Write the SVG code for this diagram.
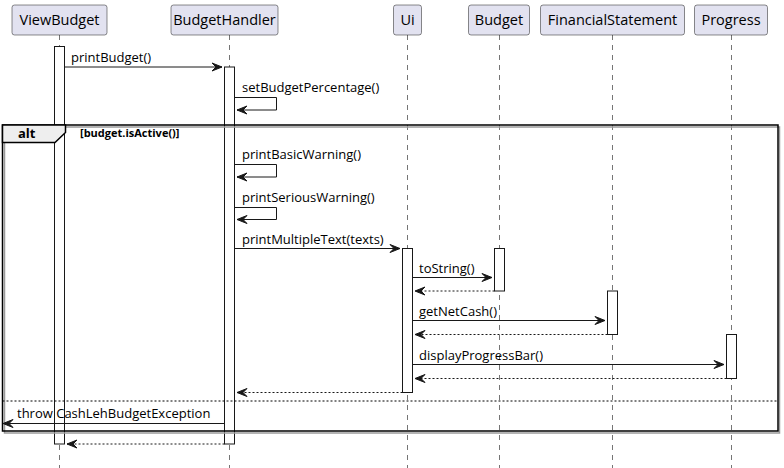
<svg xmlns="http://www.w3.org/2000/svg" width="784" height="468" viewBox="0 0 784 468">
<style>
.bg{fill:#ffffff}
.life{stroke:#181818;stroke-width:0.6;stroke-dasharray:5,5;fill:none}
.head{fill:#E2E2F0;stroke:#181818;stroke-width:0.5}
.htxt{font-family:"Open Sans","DejaVu Sans",sans-serif;font-size:14.5px;fill:#000;text-anchor:middle}
.act{fill:#ffffff;stroke:#181818;stroke-width:1}
.msg{stroke:#181818;stroke-width:1;fill:none}
.ret{stroke:#181818;stroke-width:1;fill:none;stroke-dasharray:2,2}
.ah{fill:#181818;stroke:#181818;stroke-width:1}
.mtxt{font-family:"Open Sans","DejaVu Sans",sans-serif;font-size:13px;fill:#000}
.frame{fill:none;stroke:#000;stroke-width:1.5}
.shadow{fill:none;stroke:#9a9a9a;stroke-width:1.5}
.tab{fill:#EEEEEE;stroke:#000;stroke-width:1.5}
.alt{font-family:"Open Sans","DejaVu Sans",sans-serif;font-size:13px;font-weight:bold;fill:#000}
.guard{font-family:"Open Sans","DejaVu Sans",sans-serif;font-size:11px;font-weight:bold;fill:#000}
.sep{stroke:#000;stroke-width:1;stroke-dasharray:2,2}
</style>
<rect class="bg" x="0" y="0" width="784" height="468"/>

<g id="lifelines">
<line class="life" x1="59.5" y1="35" x2="59.5" y2="468"/>
<line class="life" x1="229.5" y1="35" x2="229.5" y2="468"/>
<line class="life" x1="407.5" y1="35" x2="407.5" y2="468"/>
<line class="life" x1="499.5" y1="35" x2="499.5" y2="468"/>
<line class="life" x1="612.5" y1="35" x2="612.5" y2="468"/>
<line class="life" x1="731.5" y1="35" x2="731.5" y2="468"/>
</g>

<g id="ViewBudget">
<rect class="head" x="12" y="5" width="95" height="30" rx="2.5"/>
<text class="htxt" x="59.5" y="25">ViewBudget</text>
</g>
<g id="BudgetHandler">
<rect class="head" x="171" y="5" width="107" height="30" rx="2.5"/>
<text class="htxt" x="224.5" y="25">BudgetHandler</text>
</g>
<g id="Ui">
<rect class="head" x="393.5" y="5" width="28" height="30" rx="2.5"/>
<text class="htxt" x="407.5" y="25">Ui</text>
</g>
<g id="Budget">
<rect class="head" x="468.5" y="5" width="61" height="30" rx="2.5"/>
<text class="htxt" x="499" y="25">Budget</text>
</g>
<g id="FinancialStatement">
<rect class="head" x="540.5" y="5" width="144" height="30" rx="2.5"/>
<text class="htxt" x="612.5" y="25">FinancialStatement</text>
</g>
<g id="Progress">
<rect class="head" x="694.5" y="5" width="73" height="30" rx="2.5"/>
<text class="htxt" x="731" y="25">Progress</text>
</g>

<g id="activations">
<rect class="act" x="54.5" y="46.5" width="10" height="397.5"/>
<rect class="act" x="224.5" y="67" width="10" height="377"/>
<rect class="act" x="402.5" y="248.5" width="10" height="144"/>
<rect class="act" x="494.5" y="248.5" width="10" height="42.5"/>
<rect class="act" x="607.5" y="291" width="10" height="43.5"/>
<rect class="act" x="726.5" y="334.5" width="10" height="44"/>
</g>

<g id="alt-frame">
<rect class="shadow" x="4.5" y="127" width="775" height="306"/>
<rect class="frame" x="2.5" y="125" width="775.5" height="306"/>
<polygon class="tab" points="2.5,125 65.5,125 65.5,132.5 55,142.5 2.5,142.5"/>
<text class="alt" x="18" y="138">alt</text>
<text class="guard" x="80" y="137">[budget.isActive()]</text>
<line class="sep" x1="2.5" y1="401" x2="778" y2="401"/>
</g>

<g id="connectors">
<line class="msg" x1="64.5" y1="67" x2="222" y2="67"/>
<polygon class="ah" points="212,63 222,67 212,71 216,67"/>
<text class="mtxt" x="71" y="62">printBudget()</text>

<polyline class="msg" points="234.5,97.5 276.5,97.5 276.5,110 237,110"/>
<polygon class="ah" points="247,106 237,110 247,114 243,110"/>
<text class="mtxt" x="242" y="92">setBudgetPercentage()</text>

<polyline class="msg" points="234.5,164.5 276.5,164.5 276.5,177 237,177"/>
<polygon class="ah" points="247,173 237,177 247,181 243,177"/>
<text class="mtxt" x="242" y="159">printBasicWarning()</text>

<polyline class="msg" points="234.5,207.5 276.5,207.5 276.5,219.5 237,219.5"/>
<polygon class="ah" points="247,215.5 237,219.5 247,223.5 243,219.5"/>
<text class="mtxt" x="242" y="202">printSeriousWarning()</text>

<line class="msg" x1="234.5" y1="248.5" x2="400" y2="248.5"/>
<polygon class="ah" points="390,244.5 400,248.5 390,252.5 394,248.5"/>
<text class="mtxt" x="242" y="243.5">printMultipleText(texts)</text>

<line class="msg" x1="412.5" y1="277.5" x2="492" y2="277.5"/>
<polygon class="ah" points="482,273.5 492,277.5 482,281.5 486,277.5"/>
<text class="mtxt" x="419" y="272.5">toString()</text>
<line class="ret" x1="494.5" y1="291" x2="415" y2="291"/>
<polygon class="ah" points="425,287 415,291 425,295 421,291"/>

<line class="msg" x1="412.5" y1="320.5" x2="605" y2="320.5"/>
<polygon class="ah" points="595,316.5 605,320.5 595,324.5 599,320.5"/>
<text class="mtxt" x="419" y="315.5">getNetCash()</text>
<line class="ret" x1="607.5" y1="334.5" x2="415" y2="334.5"/>
<polygon class="ah" points="425,330.5 415,334.5 425,338.5 421,334.5"/>

<line class="msg" x1="412.5" y1="364.5" x2="724" y2="364.5"/>
<polygon class="ah" points="714,360.5 724,364.5 714,368.5 718,364.5"/>
<text class="mtxt" x="419" y="359.5">displayProgressBar()</text>
<line class="ret" x1="726.5" y1="378.5" x2="415" y2="378.5"/>
<polygon class="ah" points="425,374.5 415,378.5 425,382.5 421,378.5"/>

<line class="ret" x1="402.5" y1="392.5" x2="237" y2="392.5"/>
<polygon class="ah" points="247,388.5 237,392.5 247,396.5 243,392.5"/>

<line class="msg" x1="224.5" y1="423.5" x2="3" y2="423.5"/>
<polygon class="ah" points="13,419.5 3,423.5 13,427.5 9,423.5"/>
<text class="mtxt" x="17" y="418">throw CashLehBudgetException</text>

<line class="ret" x1="224.5" y1="444" x2="67" y2="444"/>
<polygon class="ah" points="77,440 67,444 77,448 73,444"/>
</g>
</svg>
